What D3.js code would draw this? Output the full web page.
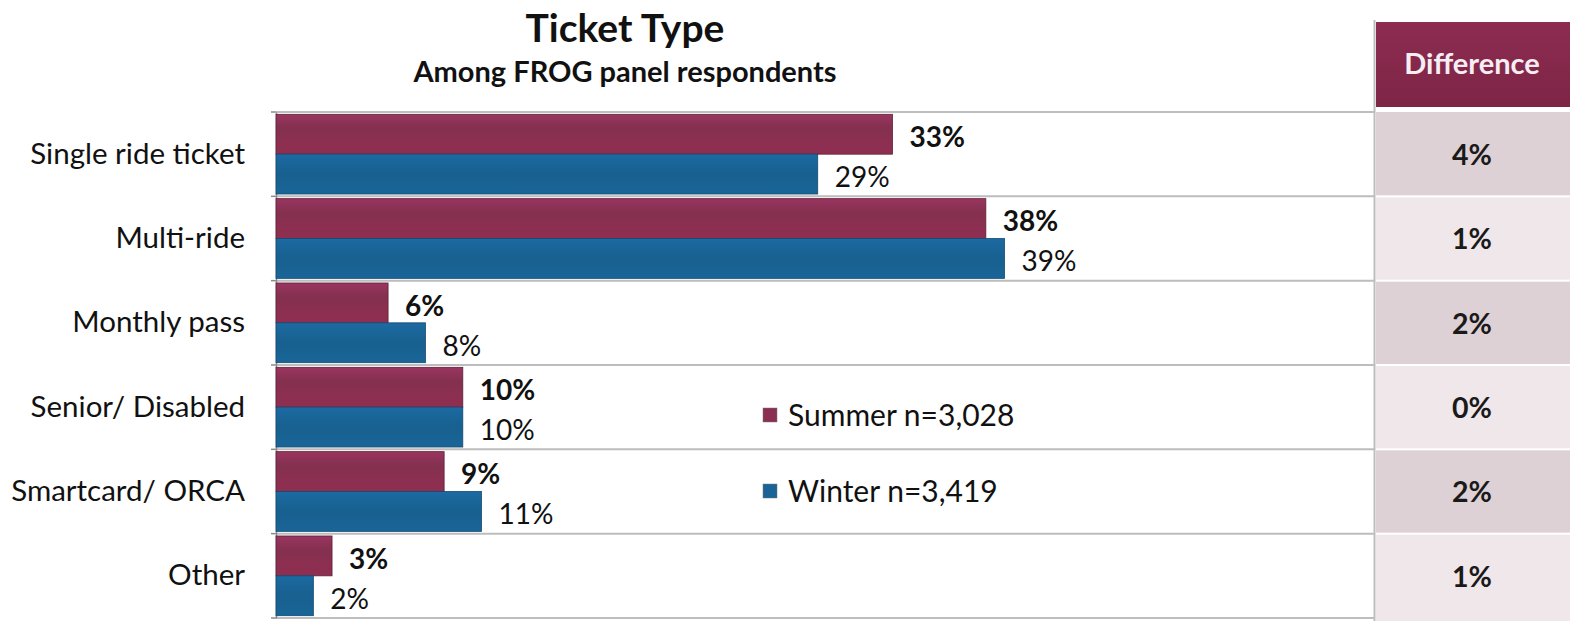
<!DOCTYPE html>
<html>
<head>
<meta charset="utf-8">
<script src="https://cdn.jsdelivr.net/npm/d3@7"></script>
<style>
  html, body { margin: 0; padding: 0; background: #ffffff; }
  svg { display: block; }
  text { font-family: Lato, "Open Sans", sans-serif; }
</style>
</head>
<body>
<svg id="chart" width="1570" height="621"></svg>
<script>
// Ticket type shares by survey wave
const categories = ["Single ride ticket", "Multi-ride", "Monthly pass", "Senior/ Disabled", "Smartcard/ ORCA", "Other"];
const summerValues = [33, 38, 6, 10, 9, 3];
const winterValues = [29, 39, 8, 10, 11, 2];
const differences = [4, 1, 2, 0, 2, 1];
const seriesNames = ["Summer n=3,028", "Winter n=3,419"];
const seriesKeys = ["summer", "winter"];

const svg = d3.select("#chart");
const W = 1570, H = 621;

const plot = { left: 276, right: 1374, top: 112, bottom: 618 };

const colors = { summer: "#8a2f52", winter: "#1b6396" };

// gradients for the bar fills
const defs = svg.append("defs");
function grad(id, stops) {
  const g = defs.append("linearGradient").attr("id", id)
    .attr("x1", 0).attr("y1", 0).attr("x2", 0).attr("y2", 1);
  stops.forEach(([o, c]) => g.append("stop").attr("offset", o).attr("stop-color", c));
}
grad("g-summer", [[0, "#9a3560"], [0.35, "#84304f"], [0.7, "#8c2f50"], [1, "#8f2e50"]]);
grad("g-winter", [[0, "#1c6aa2"], [0.5, "#17608f"], [1, "#1a6598"]]);
grad("g-head", [[0, "#8c2c50"], [1, "#7e2546"]]);

const rows = categories.map((c, i) => ({
  category: c, summer: summerValues[i], winter: winterValues[i], diff: differences[i]
}));

// scales
const y = d3.scaleBand().domain(categories).range([plot.top, plot.bottom]).paddingInner(0).paddingOuter(0);
const inner = d3.scaleBand().domain(seriesKeys).range([0, y.bandwidth()]).paddingOuter(0.058).paddingInner(0);
const x = d3.scaleLinear().domain([0, 10]).range([plot.left, plot.left + 186.8]);

// title
svg.append("text").attr("x", 625).attr("y", 42).attr("text-anchor", "middle")
  .attr("font-size", 39).attr("font-weight", 700).attr("fill", "#111").text("Ticket Type");
svg.append("text").attr("x", 625).attr("y", 82).attr("text-anchor", "middle")
  .attr("font-size", 29).attr("font-weight", 700).attr("fill", "#111").text("Among FROG panel respondents");

// row separators
const seps = categories.map(c => y(c)).concat([plot.bottom]);
svg.append("g").selectAll("line").data(seps).join("line")
  .attr("x1", plot.left).attr("x2", plot.right)
  .attr("y1", d => d).attr("y2", d => d)
  .attr("stroke", "#bdbdbd").attr("stroke-width", 2);

// category axis
const yAxis = svg.append("g").attr("transform", `translate(${plot.left},0)`)
  .call(d3.axisLeft(y).tickSize(0).tickPadding(31));
yAxis.select(".domain").attr("stroke", "#8c8c8c").attr("stroke-width", 1.5);
yAxis.selectAll("text").attr("font-size", 29.5).attr("fill", "#111").attr("font-family", "Lato, sans-serif");
// boundary tick marks
svg.append("g").selectAll("line").data(seps).join("line")
  .attr("x1", plot.left - 5).attr("x2", plot.left)
  .attr("y1", d => d).attr("y2", d => d)
  .attr("stroke", "#8c8c8c").attr("stroke-width", 1.5);

// bars
const groups = svg.append("g").selectAll("g").data(rows).join("g")
  .attr("transform", d => `translate(0,${y(d.category)})`);

groups.selectAll("rect").data(d => seriesKeys.map(k => ({ key: k, value: d[k] }))).join("rect")
  .attr("x", x(0))
  .attr("y", d => inner(d.key))
  .attr("width", d => x(d.value) - x(0))
  .attr("height", inner.bandwidth())
  .attr("fill", d => `url(#g-${d.key})`)
  .attr("stroke", d => d.key === "summer" ? "#5e1f37" : "#134a70")
  .attr("stroke-width", 0.8);

groups.selectAll("text.val").data(d => seriesKeys.map(k => ({ key: k, value: d[k] }))).join("text")
  .attr("class", "val")
  .attr("x", d => x(d.value) + 17)
  .attr("y", d => inner(d.key) + inner.bandwidth() / 2 + 3)
  .attr("dy", "0.35em")
  .attr("font-size", 28)
  .attr("font-weight", d => d.key === "summer" ? 700 : 400)
  .attr("fill", "#111")
  .text(d => d.value + "%");

// legend
const legend = svg.append("g");
seriesKeys.forEach((k, i) => {
  const ly = 415 + i * 76;
  legend.append("rect").attr("x", 763).attr("y", ly - 7).attr("width", 14).attr("height", 14)
    .attr("fill", colors[k]).attr("stroke", "#777").attr("stroke-width", 0.5);
  legend.append("text").attr("x", 788).attr("y", ly).attr("dy", "0.35em")
    .attr("font-size", 30).attr("fill", "#111").text(seriesNames[i]);
});

// difference table
const tbl = { left: 1376, right: 1570, top: 22, headBottom: 107 };
svg.append("line").attr("x1", 1374.5).attr("x2", 1374.5).attr("y1", tbl.top - 2).attr("y2", H)
  .attr("stroke", "#bdbdbd").attr("stroke-width", 2);
svg.append("rect").attr("x", tbl.left).attr("y", tbl.top)
  .attr("width", tbl.right - tbl.left).attr("height", tbl.headBottom - tbl.top)
  .attr("fill", "url(#g-head)");
svg.append("text").attr("x", 1472).attr("y", (tbl.top + tbl.headBottom) / 2 - 1).attr("dy", "0.35em")
  .attr("text-anchor", "middle").attr("font-size", 29).attr("font-weight", 700)
  .attr("fill", "#f6eef2").text("Difference");

const cellTop = i => i === 0 ? tbl.headBottom + 5 : y(categories[i]) + 1;
const cellBottom = i => i === categories.length - 1 ? H : y(categories[i]) + y.bandwidth() - 1;
const cells = svg.append("g").selectAll("g").data(rows).join("g");
cells.append("rect")
  .attr("x", tbl.left).attr("width", tbl.right - tbl.left)
  .attr("y", (d, i) => cellTop(i))
  .attr("height", (d, i) => cellBottom(i) - cellTop(i))
  .attr("fill", (d, i) => i % 2 === 0 ? "#ddd1d6" : "#efe7ea");
cells.append("text")
  .attr("x", 1472)
  .attr("y", d => y(d.category) + y.bandwidth() / 2 + 1)
  .attr("dy", "0.35em")
  .attr("text-anchor", "middle").attr("font-size", 28.5).attr("font-weight", 700)
  .attr("fill", "#1a1a1a")
  .text(d => d.diff + "%");
</script>
</body>
</html>
